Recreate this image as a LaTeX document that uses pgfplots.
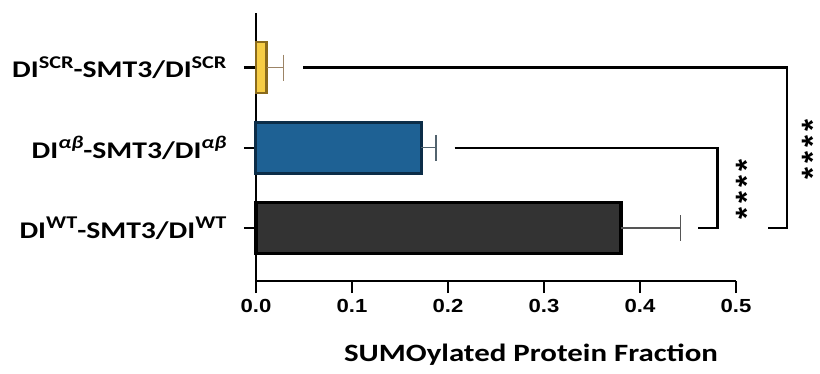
\documentclass[border=0pt]{standalone}
\usepackage{pgfplots}
\pgfplotsset{compat=1.18}
\usepackage{fontspec}
\setmainfont{Carlito}
\newfontfamily\lab[FakeStretch=1.24]{Carlito}
\newfontfamily\num[FakeStretch=1.17]{Liberation Sans}
\newfontfamily\starfont{Liberation Sans}

\definecolor{scrfill}{HTML}{F7CD45}
\definecolor{scredge}{HTML}{8A6A1C}
\definecolor{screrr}{HTML}{9C8466}
\definecolor{abfill}{HTML}{1E6194}
\definecolor{abedge}{HTML}{0C2D48}
\definecolor{aberr}{HTML}{52636E}
\definecolor{wtfill}{HTML}{333333}
\definecolor{wterr}{HTML}{555555}

\newcommand{\sy}[1]{\raisebox{0.40em}{\fontsize{18}{18}\selectfont #1}}
% one significance star, centred on its coordinate
\newcommand{\sigstar}[1]{\node[font=\starfont\bfseries\fontsize{31}{31}\selectfont, inner sep=0pt, anchor=base, rotate=90] at (#1) {\raisebox{-0.57em}[0pt][0pt]{*}};}

\begin{document}
\begin{tikzpicture}
\useasboundingbox (-256bp,-93bp) rectangle (564bp,281bp);
\begin{axis}[
  scale only axis,
  width=480bp, height=268bp,
  xmin=0, xmax=0.5, ymin=-0.66, ymax=2.68,
  axis x line*=bottom, axis y line*=left,
  axis line style={line width=2.2bp, -},
  clip=false,
  xtick={0,0.1,0.2,0.3,0.4,0.5},
  ytick={0,1,2},
  yticklabels={
    {DI\sy{WT}-SMT3/DI\sy{WT}},
    {DI\sy{\itshape αβ}-SMT3/DI\sy{\itshape αβ}},
    {DI\sy{SCR}-SMT3/DI\sy{SCR}}},
  tick align=outside,
  major tick length=12bp,
  every tick/.style={line width=2.2bp, black},
  x tick label style={font=\num\bfseries\fontsize{19}{19}\selectfont, yshift=-3bp},
  y tick label style={font=\lab\bfseries\fontsize{24}{24}\selectfont, xshift=-14bp},
  /pgf/number format/assume math mode=true,
  /pgf/number format/.cd, fixed, fixed zerofill, precision=1,
  /pgfplots/.cd,
  xlabel={SUMOylated Protein Fraction},
  every axis x label/.style={at={(axis description cs:0.573,0)}, anchor=center,
    yshift=-74bp, font=\lab\bfseries\fontsize{25}{25}\selectfont},
  xbar, bar width=51bp, bar shift=0pt,
  error bars/x dir=plus, error bars/x explicit,
]
\addplot[fill=scrfill, draw=scredge, line width=2.5bp,
  error bars/error bar style={draw=screrr, line width=1.3bp},
  error bars/error mark options={draw=screrr, line width=1.3bp, mark size=13bp, rotate=90}]
  coordinates {(0.011,2) +- (0.018,0)};
\addplot[fill=abfill, draw=abedge, line width=3bp,
  error bars/error bar style={draw=aberr, line width=1.3bp},
  error bars/error mark options={draw=aberr, line width=1.3bp, mark size=13bp, rotate=90}]
  coordinates {(0.172,1) +- (0.0155,0)};
\addplot[fill=wtfill, draw=black, line width=3.5bp,
  error bars/error bar style={draw=wterr, line width=1.3bp},
  error bars/error mark options={draw=wterr, line width=1.3bp, mark size=13bp, rotate=90}]
  coordinates {(0.380,0) +- (0.062,0)};

% significance brackets
\draw[line width=2.6bp] (axis cs:0.049,2) -- (axis cs:0.553,2) -- (axis cs:0.553,0) -- (axis cs:0.533,0);
\draw[line width=2.6bp] (axis cs:0.207,1) -- (axis cs:0.481,1) -- (axis cs:0.481,0) -- (axis cs:0.460,0);
% WT vs alpha-beta
\sigstar{axis cs:0.504,0.78}
\sigstar{axis cs:0.504,0.575}
\sigstar{axis cs:0.504,0.38}
\sigstar{axis cs:0.504,0.185}
% WT vs SCR
\sigstar{axis cs:0.573,1.28}
\sigstar{axis cs:0.573,1.075}
\sigstar{axis cs:0.573,0.88}
\sigstar{axis cs:0.573,0.685}
\end{axis}
\end{tikzpicture}
\end{document}
